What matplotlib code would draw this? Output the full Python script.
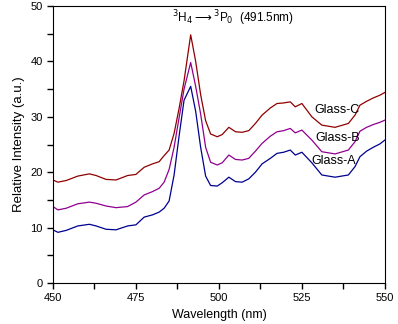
import matplotlib
matplotlib.use("Agg")
import matplotlib.pyplot as plt
from matplotlib.ticker import MultipleLocator

plt.rcParams["font.family"] = ["Liberation Sans", "DejaVu Sans"]

wavelength = [450, 451.5, 454, 457.5, 461, 463, 466, 469, 472.5, 475, 477.5, 480, 482,
              483.5, 485, 486.5, 488, 489.5, 491.5, 493, 494.5, 496, 497.5, 499.5, 501,
              503, 505, 507, 509, 511, 513, 515.5, 517.5, 519.5, 521.5, 523, 525, 528,
              531, 533, 535, 539, 541, 542.5, 544.5, 546.5, 548.5, 550]

glass_a = [9.6, 9.15, 9.5, 10.3, 10.6, 10.3, 9.7, 9.6, 10.3, 10.5, 11.9, 12.3, 12.8,
           13.5, 14.8, 19.5, 26.5, 33.0, 35.5, 31.0, 24.5, 19.3, 17.6, 17.5, 18.1,
           19.1, 18.3, 18.2, 18.8, 20.0, 21.5, 22.5, 23.4, 23.6, 24.0, 23.1, 23.6, 21.7,
           19.5, 19.3, 19.1, 19.5, 21.0, 22.8, 23.8, 24.5, 25.1, 25.8]

glass_b = [13.8, 13.2, 13.5, 14.3, 14.6, 14.4, 13.9, 13.6, 13.8, 14.6, 15.9, 16.5, 17.1,
           18.2, 20.5, 24.5, 29.8, 35.0, 39.8, 35.5, 30.5, 24.5, 21.8, 21.3, 21.7,
           23.1, 22.3, 22.2, 22.5, 23.8, 25.2, 26.5, 27.3, 27.5, 27.9, 27.1, 27.6, 25.8,
           23.7, 23.5, 23.3, 24.0, 25.5, 27.4, 28.1, 28.6, 29.0, 29.4]

glass_c = [18.6, 18.2, 18.5, 19.3, 19.7, 19.4, 18.7, 18.6, 19.4, 19.6, 20.9, 21.5, 21.9,
           23.0, 24.0, 27.0, 31.5, 36.5, 44.8, 40.0, 34.0, 29.3, 26.9, 26.4, 26.8,
           28.1, 27.3, 27.2, 27.5, 28.8, 30.3, 31.6, 32.4, 32.5, 32.7, 31.8, 32.4, 30.0,
           28.5, 28.3, 28.1, 28.8, 30.3, 32.1, 32.8, 33.4, 33.9, 34.4]

fig = plt.figure(figsize=(3.98, 3.24), dpi=100)
ax = fig.add_axes([0.133, 0.1265, 0.834, 0.855])

ax.plot(wavelength, glass_a, color="#000090", lw=0.9)
ax.plot(wavelength, glass_b, color="#900090", lw=0.9)
ax.plot(wavelength, glass_c, color="#900000", lw=0.9)

ax.text(528.9, 31.2, "Glass-C", fontsize=9, va="center", ha="left")
ax.text(529.2, 26.1, "Glass-B", fontsize=9, va="center", ha="left")
ax.text(527.9, 22.0, "Glass-A", fontsize=9, va="center", ha="left")

ax.text(485.8, 47.8, r"$^{3}$H$_{4}$$\longrightarrow$$^{3}$P$_{0}$  (491.5nm)",
        fontsize=8.5, va="center", ha="left")

ax.set_xlim(450, 550)
ax.set_ylim(0, 50)
ax.xaxis.set_major_locator(MultipleLocator(25))
ax.xaxis.set_minor_locator(MultipleLocator(12.5))
ax.yaxis.set_major_locator(MultipleLocator(10))
ax.yaxis.set_minor_locator(MultipleLocator(5))
ax.tick_params(which="both", direction="out", length=4, width=1, labelsize=8,
               top=False, right=False)

ax.set_xlabel("Wavelength (nm)", fontsize=9)
ax.set_ylabel("Relative Intensity (a.u.)", fontsize=9.5)

fig.savefig("out.png", dpi=100)
